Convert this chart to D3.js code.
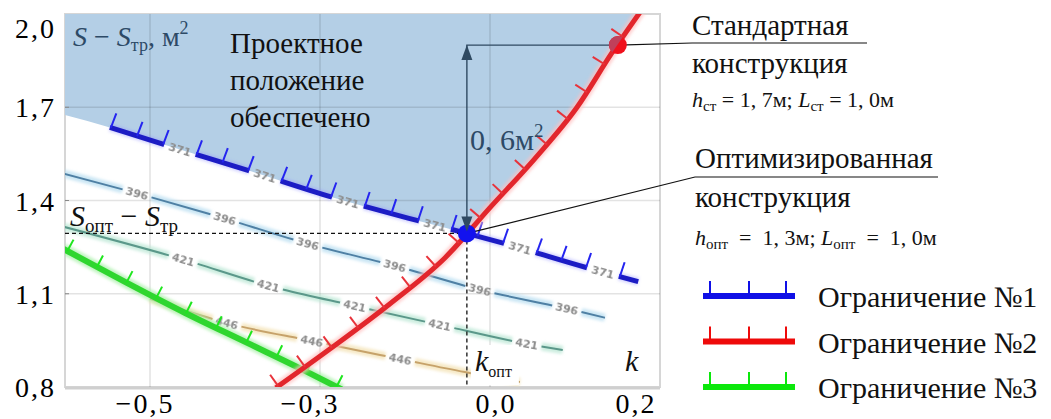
<!DOCTYPE html>
<html><head><meta charset="utf-8">
<script src="https://cdn.jsdelivr.net/npm/d3@7"></script>
<style>
body{margin:0;background:#fff;}
svg{display:block;}
</style></head><body>
<svg id="c" width="1051" height="419" font-family="'Liberation Serif', 'DejaVu Serif', serif"></svg>
<script>
// ---------------- data ----------------
const xTicks = [-0.5, -0.3, 0.0, 0.2];
const xTickLabels = ["−0,5", "−0,3", "0,0", "0,2"];
const yTicks = [0.8, 1.1, 1.4, 1.7, 2.0];
const yTickLabels = ["0,8", "1,1", "1,4", "1,7", "2,0"];
const xGrid = [-0.5, -0.25, 0.0];
const yGrid = [1.1, 1.4, 1.7];

// Constraint №1 (contour 371)
const limit1 = [[-0.559,1.635],[-0.481,1.581],[-0.356,1.497],[-0.231,1.410],[-0.106,1.335],[-0.034,1.294],[0.022,1.261],[0.147,1.181],[0.218,1.139]];
const limit1LabelX = [-0.456,-0.331,-0.209,-0.081,0.044,0.166];
const limit1Level = "371";
const shadeEdge = [-0.625, 1.675];
// Constraint №2
const limit2 = [[-0.315,0.797],[-0.235,0.923],[-0.147,1.068],[-0.066,1.216],[0.0,1.377],[0.066,1.535],[0.128,1.700],[0.179,1.874],[0.222,2.01]];
// Constraint №3
const limit3 = [[-0.628,1.245],[-0.534,1.135],[-0.449,1.039],[-0.357,0.942],[-0.272,0.852],[-0.218,0.792]];
// Objective contours
const contour396 = [[-0.628,1.487],[-0.519,1.423],[-0.390,1.342],[-0.268,1.261],[-0.140,1.190],[-0.015,1.113],[0.113,1.052],[0.169,1.023]];
const contour396LabelX = [-0.519,-0.390,-0.268,-0.140,-0.015,0.113];
const contour421 = [[-0.628,1.316],[-0.451,1.210],[-0.326,1.126],[-0.199,1.061],[-0.074,1.000],[0.054,0.939],[0.107,0.919]];
const contour421LabelX = [-0.451,-0.326,-0.199,-0.074,0.054];
const contour446 = [[-0.500,1.084],[-0.387,1.006],[-0.262,0.948],[-0.132,0.890],[-0.037,0.848],[0.044,0.816]];
const contour446LabelX = [-0.387,-0.262,-0.132];
const contourLevels = ["396","421","446"];

const optimum = [-0.034, 1.294];
const standard = [0.188, 1.90];
const gainLabel = "0, 6м";
const legendLabels = ["Ограничение №1","Ограничение №2","Ограничение №3"];

// ---------------- chart ----------------
const SERIF = "'Liberation Serif', 'DejaVu Serif', serif";
const svg = d3.select("#c");
const x = d3.scaleLinear().domain([-0.625, 0.25]).range([65, 660]);
const y = d3.scaleLinear().domain([0.8, 2.0]).range([387, 14]);
const [X0, X1] = x.range(), [Y0, Y1] = [y(2.0), y(0.8)];
const line = d3.line().x(d => x(d[0])).y(d => y(d[1])).curve(d3.curveMonotoneX);

const defs = svg.append("defs");
defs.append("clipPath").attr("id","plotClip").append("rect")
  .attr("x",X0).attr("y",Y0).attr("width",X1-X0).attr("height",Y1-Y0);
defs.append("clipPath").attr("id","leftOfRed").append("path")
  .attr("d", line(limit2) + `L${X0-20},${y(2.0)-20}L${X0-20},${y(0.8)+20}Z`);
defs.append("filter").attr("id","soft").append("feGaussianBlur").attr("stdDeviation",0.45);
defs.append("filter").attr("id","glow").attr("x","-20%").attr("y","-20%").attr("width","140%").attr("height","140%")
  .append("feGaussianBlur").attr("stdDeviation",1.6);

// plot background + frame
svg.append("rect").attr("x",X0).attr("y",Y0).attr("width",X1-X0).attr("height",Y1-Y0)
  .attr("fill","#fff").attr("stroke","#d6d6d6").attr("stroke-width",2);
svg.append("line").attr("x1",X0).attr("x2",X1).attr("y1",Y1+1).attr("y2",Y1+1)
  .attr("stroke","#cfcfcf").attr("stroke-width",3);

const plot = svg.append("g").attr("clip-path","url(#plotClip)");

// shaded region
const shadePts = [shadeEdge, ...limit1];
const shadeD = line(shadePts) + `L${x(limit1[limit1.length-1][0])+40},${y(limit1[limit1.length-1][1])}L${X1+20},${Y0-20}L${X0-20},${Y0-20}L${X0-20},${y(shadeEdge[1])}Z`;
plot.append("g").attr("clip-path","url(#leftOfRed)")
  .append("path").attr("d", shadeD).attr("fill","#b4cfe6");

// grid
plot.selectAll(".gx").data(xGrid).join("line")
  .attr("x1",d=>x(d)).attr("x2",d=>x(d)).attr("y1",Y0).attr("y2",Y1)
  .attr("stroke","rgba(0,0,0,0.11)").attr("stroke-width",1.6);
plot.selectAll(".gy").data(yGrid).join("line")
  .attr("x1",X0).attr("x2",X1).attr("y1",d=>y(d)).attr("y2",d=>y(d))
  .attr("stroke","rgba(0,0,0,0.11)").attr("stroke-width",1.6);
svg.selectAll(".ty").data(yGrid).join("line")
  .attr("x1",X0).attr("x2",X0+4).attr("y1",d=>y(d)).attr("y2",d=>y(d))
  .attr("stroke","#888").attr("stroke-width",1);

// helpers
function lenAtX(node, xv){
  const px = x(xv); let lo = 0, hi = node.getTotalLength();
  for (let i = 0; i < 40; i++){ const m = (lo+hi)/2; if (node.getPointAtLength(m).x < px) lo = m; else hi = m; }
  return (lo+hi)/2;
}
function frame(node, l){
  const L = node.getTotalLength();
  const a = node.getPointAtLength(Math.max(0,l-1.5)), b = node.getPointAtLength(Math.min(L,l+1.5));
  const dx = b.x-a.x, dy = b.y-a.y, n = Math.hypot(dx,dy) || 1;
  const p = node.getPointAtLength(l);
  return {x:p.x, y:p.y, tx:dx/n, ty:dy/n, nx:dy/n, ny:-dx/n, ang:Math.atan2(dy,dx)*180/Math.PI};
}
function segments(node, labelXs, half){
  const L = node.getTotalLength(); const segs = []; let s = 0;
  labelXs.forEach(v => { const c = lenAtX(node, v); segs.push([s, c-half]); s = c+half; });
  segs.push([s, L]); return segs;
}
function dash(segs, L){
  const arr = [0]; let pos = 0;
  segs.forEach(([a,b]) => { arr.push(a-pos, b-a); pos = b; });
  arr.push(L-pos+50); return arr.join(",");
}
function drawLabels(g, node, labelXs, txt){
  labelXs.forEach(v => {
    const f = frame(node, lenAtX(node, v));
    g.append("text").attr("transform",`translate(${f.x},${f.y}) rotate(${f.ang})`)
      .attr("text-anchor","middle").attr("dy","0.36em")
      .attr("font-family","'DejaVu Sans', sans-serif").attr("font-size",11).attr("font-weight","bold")
      .attr("fill","#8c8c8c").attr("filter","url(#soft)").text(txt);
  });
}

// objective contours
const contours = [
  {pts:contour446, lx:contour446LabelX, lvl:contourLevels[2], c:"#c6a26a", glow:"#f2dfae"},
  {pts:contour421, lx:contour421LabelX, lvl:contourLevels[1], c:"#5b988a", glow:"#b6e6d2"},
  {pts:contour396, lx:contour396LabelX, lvl:contourLevels[0], c:"#4f80a4", glow:"#b4dcef"}
];
contours.forEach(ct => {
  const g = plot.append("g");
  const glow = g.append("path").attr("d", line(ct.pts)).attr("fill","none")
    .attr("stroke", ct.glow).attr("stroke-width",8).attr("stroke-opacity",0.7).attr("filter","url(#glow)");
  const core = g.append("path").attr("d", line(ct.pts)).attr("fill","none")
    .attr("stroke", ct.c).attr("stroke-width",2);
  const node = core.node(), L = node.getTotalLength();
  const da = dash(segments(node, ct.lx, 15), L);
  glow.attr("stroke-dasharray", da); core.attr("stroke-dasharray", da);
  drawLabels(g, node, ct.lx, ct.lvl);
});

// constraint 3 (green)
{
  const g = plot.append("g");
  g.append("path").attr("d", line(limit3)).attr("fill","none").attr("stroke","#a6f0a6").attr("stroke-width",11).attr("stroke-opacity",0.7).attr("filter","url(#glow)");
  const p = g.append("path").attr("d", line(limit3)).attr("fill","none").attr("stroke","#2fd62f").attr("stroke-width",6);
  const node = p.node(), L = node.getTotalLength();
  for (let l = 5; l <= L; l += 33.5){
    const f = frame(node, l);
    g.append("line").attr("x1",f.x).attr("y1",f.y).attr("x2",f.x+f.nx*13).attr("y2",f.y+f.ny*13)
      .attr("stroke","#1ee61e").attr("stroke-width",2);
  }
}
// constraint 1 (blue)
{
  const g = plot.append("g");
  const glow = g.append("path").attr("d", line(limit1)).attr("fill","none").attr("stroke","#8f8fff").attr("stroke-width",8).attr("stroke-opacity",0.4).attr("filter","url(#glow)");
  const p = g.append("path").attr("d", line(limit1)).attr("fill","none").attr("stroke","#1c1cc4").attr("stroke-width",5);
  const node = p.node(), L = node.getTotalLength();
  const segs = segments(node, limit1LabelX, 16.5);
  const da = dash(segs, L);
  glow.attr("stroke-dasharray", da); p.attr("stroke-dasharray", da);
  segs.forEach(([a,b]) => {
    const ls = (b - a) > 30 ? [a+1, (a+b)/2, b-1] : [a+1];
    ls.forEach(l => {
      const f = frame(node, l);
      g.append("line").attr("x1",f.x).attr("y1",f.y).attr("x2",f.x+f.nx*15+f.tx*1).attr("y2",f.y+f.ny*15)
        .attr("stroke","#2424f0").attr("stroke-width",2);
    });
  });
  drawLabels(g, node, limit1LabelX, limit1Level);
}
// constraint 2 (red)
{
  const g = plot.append("g");
  g.append("path").attr("d", line(limit2)).attr("fill","none").attr("stroke","#ffc0c0").attr("stroke-width",10).attr("stroke-opacity",0.7).attr("filter","url(#glow)");
  const p = g.append("path").attr("d", line(limit2)).attr("fill","none").attr("stroke","#e2262c").attr("stroke-width",5);
  const node = p.node(), L = node.getTotalLength();
  for (let l = 3; l <= L; l += 33){
    const f = frame(node, l);
    g.append("line").attr("x1",f.x).attr("y1",f.y).attr("x2",f.x+f.nx*14).attr("y2",f.y+f.ny*14)
      .attr("stroke","#e8323a").attr("stroke-width",2);
  }
}

// dashed reference lines to optimum
const ox = x(optimum[0]), oy = y(optimum[1]), sx = x(standard[0]), sy = y(standard[1]);
svg.append("line").attr("x1",X0).attr("x2",ox).attr("y1",oy).attr("y2",oy)
  .attr("stroke","#111").attr("stroke-width",1.3).attr("stroke-dasharray","4,3");
svg.append("line").attr("x1",ox).attr("x2",ox).attr("y1",oy).attr("y2",Y1)
  .attr("stroke","#111").attr("stroke-width",1.3).attr("stroke-dasharray","4,3");

// difference arrow
const ac = "#2f4a62";
svg.append("path").attr("d",`M${ox},${oy-10}L${ox},${sy}L${sx},${sy}`).attr("fill","none").attr("stroke",ac).attr("stroke-width",1.4);

// leader lines
svg.append("path").attr("d",`M${sx},${sy}L692,43L867,43`).attr("fill","none").attr("stroke","#111").attr("stroke-width",1.2);
svg.append("path").attr("d",`M${ox},${oy}L695,177L938,177`).attr("fill","none").attr("stroke","#111").attr("stroke-width",1.2);

// points
svg.append("circle").attr("cx",sx).attr("cy",sy).attr("r",9).attr("fill","#f0101c");
svg.append("g").attr("clip-path","url(#leftOfRed)").append("circle")
  .attr("cx",sx).attr("cy",sy).attr("r",9).attr("fill","#c0405a");
svg.append("circle").attr("cx",ox).attr("cy",oy).attr("r",9).attr("fill","#1212ee");
svg.append("path").attr("d",`M${ox},${sy}L${ox-5.5},${sy+15}L${ox+5.5},${sy+15}Z`).attr("fill",ac);
svg.append("path").attr("d",`M${ox},${oy-2}L${ox-5.5},${oy-17}L${ox+5.5},${oy-17}Z`).attr("fill",ac);

// axis tick labels
svg.selectAll(".yl").data(yTicks).join("text")
  .attr("x",56).attr("y",d => Math.max(y(d)+10, 38)).attr("text-anchor","end")
  .attr("font-family",SERIF).attr("font-size",28).attr("letter-spacing",2).attr("fill","#000")
  .text((d,i) => yTickLabels[i]);
const xNudge = {"-0.5":-5, "-0.3":24, "0":6, "0.2":10};
svg.selectAll(".xl").data(xTicks).join("text")
  .attr("x",d => x(d) + (xNudge[String(d)]||0)).attr("y",413).attr("text-anchor","middle")
  .attr("font-family",SERIF).attr("font-size",28).attr("letter-spacing",2).attr("fill","#000")
  .text((d,i) => xTickLabels[i]);

// texts
function addText(xp, yp, size, color, parts){
  const t = svg.append("text").attr("x",xp).attr("y",yp).attr("font-family",SERIF).attr("font-size",size).attr("fill",color);
  parts.forEach(p => {
    const s = t.append("tspan").text(p.t);
    if (p.i) s.attr("font-style","italic");
    if (p.s) s.attr("font-size",p.s);
    if (p.dy) s.attr("dy",p.dy);
  });
  return t;
}
const slate = "#2d4a66";
addText(73, 46, 28, slate, [{t:"S",i:1},{t:" − "},{t:"S",i:1},{t:"тр",s:18,dy:5},{t:", м",dy:-5},{t:"2",s:18,dy:-12}]);
["Проектное","положение","обеспечено"].forEach((s,i) => addText(230, 53+i*37, 29, "#111", [{t:s}]));
addText(470, 150, 30, slate, [{t:gainLabel},{t:"2",s:19,dy:-13}]);
addText(70, 226, 30, "#111", [{t:"S",i:1},{t:"опт",s:19,dy:6},{t:" − ",dy:-6},{t:"S",i:1},{t:"тр",s:19,dy:6}]);
svg.append("rect").attr("x",ox+4).attr("y",345).attr("width",48).attr("height",40).attr("fill","#fff");
addText(475, 371, 30, "#111", [{t:"k",i:1},{t:"опт",s:16,dy:6}]);
addText(625, 371, 30, "#111", [{t:"k",i:1}]);

addText(692, 35, 29, "#111", [{t:"Стандартная"}]);
addText(692, 73, 29, "#111", [{t:"конструкция"}]);
addText(692, 107, 22, "#111", [{t:"h",i:1},{t:"ст",s:15,dy:4},{t:" = 1, 7м; ",dy:-4},{t:"L",i:1},{t:"ст",s:15,dy:4},{t:" = 1, 0м",dy:-4}]);
addText(695, 168, 29, "#111", [{t:"Оптимизированная"}]);
addText(695, 207, 29, "#111", [{t:"конструкция"}]);
addText(695, 245, 22, "#111", [{t:"h",i:1},{t:"опт",s:15,dy:4},{t:"\u2002=\u20021, 3м; ",dy:-4},{t:"L",i:1},{t:"опт",s:15,dy:4},{t:"\u2002=\u20021, 0м",dy:-4}]);

// legend
const legendColors = ["#1010e6","#ee0a0a","#0ce80c"];
const lg = svg.append("g");
legendLabels.forEach((s,i) => {
  const ly = 296 + i*45.5;
  lg.append("line").attr("x1",703).attr("x2",795).attr("y1",ly).attr("y2",ly).attr("stroke",legendColors[i]).attr("stroke-width",6);
  [710,749,786].forEach(tx => lg.append("line").attr("x1",tx).attr("x2",tx).attr("y1",ly).attr("y2",ly-15)
    .attr("stroke",legendColors[i]).attr("stroke-width",2));
  lg.append("text").attr("x",818).attr("y",ly+11).attr("font-family",SERIF).attr("font-size",30).attr("fill","#111").text(s);
});
</script>
</body></html>
